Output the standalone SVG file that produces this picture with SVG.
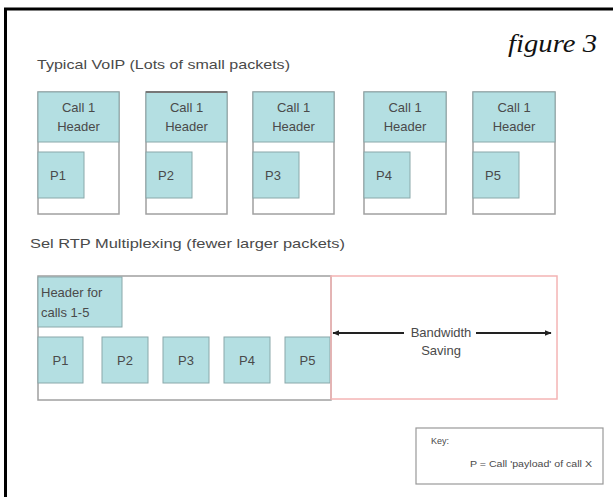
<svg xmlns="http://www.w3.org/2000/svg" width="613" height="497" viewBox="0 0 613 497">
<style>
.pkt{fill:#ffffff;stroke:#a0a0a0;stroke-width:1.5}
.hdr{fill:#b4dfe2;stroke:#8aa8aa;stroke-width:1}
.pl{fill:#b4dfe2;stroke:#8aa8aa;stroke-width:1}
.t{font-family:"Liberation Sans",Arial,sans-serif;font-size:13px;fill:#4a4a4a}
.k{font-family:"Liberation Sans",Arial,sans-serif;font-size:9px;fill:#4a4a4a}
.c{text-anchor:middle}
</style>
<defs>
<marker id="ah" viewBox="0 0 10 10" refX="9" refY="5" markerWidth="7" markerHeight="7" orient="auto-start-reverse" markerUnits="userSpaceOnUse">
<path d="M0,1 L10,5 L0,9 Z" fill="#222"/>
</marker>
</defs>
<rect x="0" y="0" width="613" height="497" fill="#fff"/>
<rect x="5.5" y="9" width="620" height="500" fill="none" stroke="#000" stroke-width="3"/>
<text x="508" y="52" font-family="'Liberation Serif','Times New Roman',serif" font-style="italic" font-size="25" fill="#111" textLength="89" lengthAdjust="spacingAndGlyphs">figure 3</text>
<text class="t" x="37" y="69" textLength="253" lengthAdjust="spacingAndGlyphs">Typical VoIP (Lots of small packets)</text>

<g id="pkt1"><rect class="pkt" x="38" y="92" width="81" height="122"/><rect class="hdr" x="38" y="92" width="81" height="50"/><text class="t c" x="78.5" y="112">Call 1</text><text class="t c" x="78.5" y="131">Header</text><rect class="pl" x="38" y="152" width="46" height="46"/><text class="t c" x="58" y="180">P1</text></g>
<g id="pkt2"><rect class="pkt" x="146" y="92" width="81" height="122"/><rect class="hdr" x="146" y="92" width="81" height="50"/><line x1="146" y1="92" x2="227" y2="92" stroke="#777" stroke-width="2"/><text class="t c" x="186.5" y="112">Call 1</text><text class="t c" x="186.5" y="131">Header</text><rect class="pl" x="146" y="152" width="46" height="46"/><text class="t c" x="166" y="180">P2</text></g>
<g id="pkt3"><rect class="pkt" x="253" y="92" width="81" height="122"/><rect class="hdr" x="253" y="92" width="81" height="50"/><text class="t c" x="293.5" y="112">Call 1</text><text class="t c" x="293.5" y="131">Header</text><rect class="pl" x="253" y="152" width="46" height="46"/><text class="t c" x="273" y="180">P3</text></g>
<g id="pkt4"><rect class="pkt" x="364" y="92" width="82" height="122"/><rect class="hdr" x="364" y="92" width="82" height="50"/><text class="t c" x="405" y="112">Call 1</text><text class="t c" x="405" y="131">Header</text><rect class="pl" x="364" y="152" width="46" height="46"/><text class="t c" x="384" y="180">P4</text></g>
<g id="pkt5"><rect class="pkt" x="473" y="92" width="82" height="122"/><rect class="hdr" x="473" y="92" width="82" height="50"/><text class="t c" x="514" y="112">Call 1</text><text class="t c" x="514" y="131">Header</text><rect class="pl" x="473" y="152" width="46" height="46"/><text class="t c" x="493" y="180">P5</text></g>

<text class="t" x="30" y="248" textLength="315" lengthAdjust="spacingAndGlyphs">Sel RTP Multiplexing (fewer larger packets)</text>

<g id="mux">
<rect class="pkt" x="38" y="276" width="293" height="124"/>
<rect class="hdr" x="38" y="277" width="84" height="50"/>
<text class="t" x="41" y="297">Header for</text>
<text class="t" x="41" y="317">calls 1-5</text>
<rect class="pl" x="38" y="337" width="45" height="46"/><text class="t c" x="60.5" y="365">P1</text>
<rect class="pl" x="102" y="337" width="46" height="46"/><text class="t c" x="125" y="365">P2</text>
<rect class="pl" x="163" y="337" width="46" height="46"/><text class="t c" x="186" y="365">P3</text>
<rect class="pl" x="224" y="337" width="46" height="46"/><text class="t c" x="247" y="365">P4</text>
<rect class="pl" x="285" y="337" width="45" height="46"/><text class="t c" x="307.5" y="365">P5</text>
</g>
<g id="saving">
<rect x="331" y="276" width="226" height="123" fill="none" stroke="#f4b4b4" stroke-width="1.5"/>
<text class="t c" x="441" y="337">Bandwidth</text>
<text class="t c" x="441" y="355">Saving</text>
</g>
<g id="connectors">
<line x1="333" y1="333" x2="404" y2="333" stroke="#222" stroke-width="2" marker-start="url(#ah)"/>
<line x1="476" y1="333" x2="551" y2="333" stroke="#222" stroke-width="2" marker-end="url(#ah)"/>
</g>
<g id="key">
<rect x="416" y="428" width="187" height="56" fill="#fff" stroke="#999" stroke-width="1.2"/>
<text class="k" x="431" y="444">Key:</text>
<text class="k" x="470" y="467" textLength="122" lengthAdjust="spacingAndGlyphs">P = Call 'payload' of call X</text>
</g>
</svg>
